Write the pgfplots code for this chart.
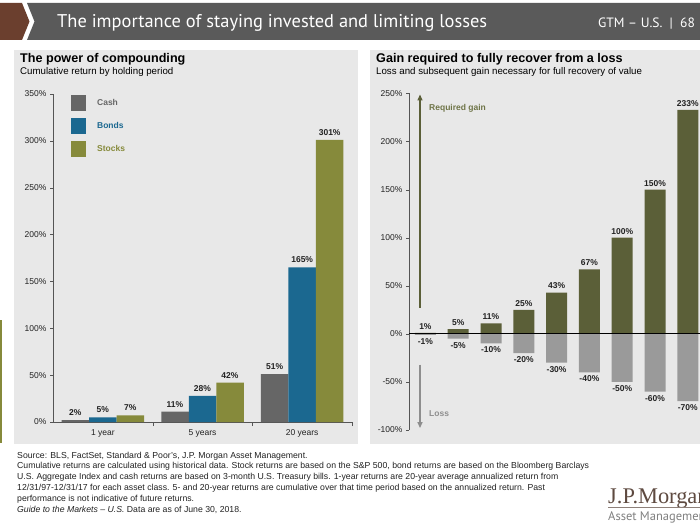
\documentclass[border=0pt]{standalone}
\usepackage{pgfplots}
\pgfplotsset{compat=1.18}
\usepackage{pgfplotstable}
\usepackage{fontspec}
\setmainfont{Liberation Sans}
\newfontfamily\hdrfont{PT Sans}
\newfontfamily\serifont{Liberation Serif}
\usetikzlibrary{arrows.meta}
\definecolor{hdrgray}{HTML}{5A5A5A}
\definecolor{hdrbrown}{HTML}{6B3F2E}
\definecolor{panel}{HTML}{E8E8E8}
\definecolor{cashc}{HTML}{666666}
\definecolor{bondc}{HTML}{1B6890}
\definecolor{stockc}{HTML}{868A3B}
\definecolor{gainc}{HTML}{5B5F38}
\definecolor{gaintext}{HTML}{6E7447}
\definecolor{lossc}{HTML}{9A9A9A}
\definecolor{losstext}{HTML}{8E8E8E}
\definecolor{axisc}{HTML}{555555}
\definecolor{logoc}{HTML}{5E4A40}
\definecolor{notec}{HTML}{222222}

\pgfplotstableread{
x cash bonds stocks
0 2 5 7
1 11 28 42
2 51 165 301
}\compound
\pgfplotstableread{
x gain loss
0 1 -1
1 5 -5
2 11 -10
3 25 -20
4 43 -30
5 67 -40
6 100 -50
7 150 -60
8 233 -70
}\recover

\newcommand{\tickfont}{\fontsize{8.5}{10}\selectfont}
\newcommand{\lblfont}{\bfseries\fontsize{8.5}{10}\selectfont}

\begin{document}
\begin{tikzpicture}[x=1pt,y=1pt]
\useasboundingbox (0,0) rectangle (700,525);
\clip (0,0) rectangle (700,525);
\fill[white] (0,0) rectangle (700,525);
% header
\fill[hdrbrown] (0,522) -- (22,522) -- (29.5,503.5) -- (22,485) -- (0,485) -- cycle;
\fill[hdrgray] (27,522) -- (700,522) -- (700,485) -- (27,485) -- (34.5,503.5) -- cycle;
\node[anchor=base west, inner sep=0pt, text=white] at (57,497.5)
  {\resizebox{430pt}{!}{\hdrfont\fontsize{17}{20}\selectfont The importance of staying invested and limiting losses}};
\node[anchor=base west, inner sep=0pt, text=white] at (598,497.5)
  {\hdrfont\fontsize{13.5}{16}\selectfont GTM – U.S.\ \ |\ \ 68};
% panels
\fill[panel] (14,475) rectangle (358,81);
\fill[panel] (370,475) rectangle (700,81);
\draw[stockc, line width=1.5pt] (1,205) -- (1,82);
% panel titles
\node[anchor=base west, inner sep=0pt] at (20,462) {\bfseries\fontsize{12.6}{14}\selectfont The power of compounding};
\node[anchor=base west, inner sep=0pt] at (20,450) {\fontsize{9.7}{11}\selectfont Cumulative return by holding period};
\node[anchor=base west, inner sep=0pt] at (376,462) {\bfseries\fontsize{12.6}{14}\selectfont Gain required to fully recover from a loss};
\node[anchor=base west, inner sep=0pt] at (376,450) {\fontsize{9.7}{11}\selectfont Loss and subsequent gain necessary for full recovery of value};

% left chart
\begin{axis}[
  at={(53pt,103pt)}, anchor=south west,
  scale only axis, width=299pt, height=328pt,
  xmin=-0.5, xmax=2.5, ymin=0, ymax=350,
  enlargelimits=false, clip=false,
  axis x line=bottom, axis y line=left,
  axis line style={-, draw=axisc},
  tick style={draw=axisc},
  tick align=outside, major tick length=3pt, minor tick length=4pt,
  ytick={0,50,100,150,200,250,300,350},
  yticklabels={0\%,50\%,100\%,150\%,200\%,250\%,300\%,350\%},
  xtick={0,1,2}, xticklabels={1 year,5 years,20 years},
  minor xtick={0.5,1.5,2.5},
  every major x tick/.append style={draw=none},
  ticklabel style={font=\tickfont, text=notec},
  xticklabel style={yshift=-1pt},
  ybar=0pt, bar width=27.5pt,
  nodes near coords={\pgfmathprintnumber[assume math mode=true]{\pgfplotspointmeta}\%},
  every node near coord/.append style={font=\lblfont, text=notec, yshift=1pt},
  legend style={draw=none, fill=none, at={(0.06,0.997)}, anchor=north west,
    font=\lblfont, row sep=7pt, inner sep=0pt, nodes={inner sep=0pt},
    /tikz/every odd column/.append style={column sep=11pt}},
  legend cell align=left,
  legend image code/.code={\fill[#1] (0pt,-8pt) rectangle (15pt,8pt);},
]
\addplot[fill=cashc, draw=none] table[x=x, y=cash] {\compound};
\addlegendentry{\textcolor{cashc}{Cash}}
\addplot[fill=bondc, draw=none] table[x=x, y=bonds] {\compound};
\addlegendentry{\textcolor{bondc}{Bonds}}
\addplot[fill=stockc, draw=none] table[x=x, y=stocks] {\compound};
\addlegendentry{\textcolor{stockc}{Stocks}}
\end{axis}

% right chart
\begin{axis}[
  at={(409pt,95pt)}, anchor=south west,
  scale only axis, width=295.2pt, height=336.5pt,
  xmin=-0.5, xmax=8.5, ymin=-100, ymax=250,
  enlargelimits=false,
  axis y line=left, axis x line=none,
  axis line style={-, draw=axisc},
  tick style={draw=axisc},
  tick align=outside, major tick length=3pt,
  ytick={-100,-50,0,50,100,150,200,250},
  yticklabels={-100\%,-50\%,0\%,50\%,100\%,150\%,200\%,250\%},
  ticklabel style={font=\tickfont, text=notec},
  ybar, bar width=21pt,
  nodes near coords={\pgfmathprintnumber[assume math mode=true]{\pgfplotspointmeta}\%},
  every node near coord/.append style={font=\lblfont, text=notec},
]
\addplot[fill=gainc, draw=none, bar shift=0pt] table[x=x, y=gain] {\recover};
\addplot[fill=lossc, draw=none, bar shift=0pt] table[x=x, y=loss] {\recover};
\draw[black, line width=0.8pt] (axis cs:-0.5,0) -- (axis cs:8.5,0);
\draw[gainc, line width=1.3pt, -{Triangle[width=5pt,length=6pt]}] (axis cs:-0.165,27) -- (axis cs:-0.165,249);
\node[anchor=west, font=\lblfont, text=gaintext, inner sep=0pt] at (axis cs:0.11,235) {Required gain};
\draw[losstext, line width=1.3pt, -{Triangle[width=5pt,length=6pt]}] (axis cs:-0.165,-32) -- (axis cs:-0.165,-98);
\node[anchor=west, font=\lblfont, text=losstext, inner sep=0pt] at (axis cs:0.11,-83) {Loss};
\end{axis}

% footnotes
\begin{scope}[every node/.style={anchor=base west, inner sep=0pt, text=notec, font=\fontsize{8.7}{10}\selectfont}]
\node at (17,67) {Source: BLS, FactSet, Standard \& Poor's, J.P. Morgan Asset Management.};
\node at (17,56.2) {Cumulative returns are calculated using historical data. Stock returns are based on the S\&P 500, bond returns are based on the Bloomberg Barclays};
\node at (17,45.4) {U.S. Aggregate Index and cash returns are based on 3-month U.S. Treasury bills. 1-year returns are 20-year average annualized return from};
\node at (17,34.6) {12/31/97-12/31/17 for each asset class. 5- and 20-year returns are cumulative over that time period based on the annualized return. Past};
\node at (17,23.8) {performance is not indicative of future returns.};
\node at (17,13) {\textit{Guide to the Markets – U.S.} Data are as of June 30, 2018.};
\end{scope}

% logo
\node[anchor=base west, inner sep=0pt, text=logoc] at (608,22) {\serifont\fontsize{22.4}{25}\selectfont J.P.Morgan};
\draw[logoc!70, line width=0.6pt] (608,17.5) -- (700,17.5);
\node[anchor=base west, inner sep=0pt, text=gray] at (608,4.5) {\hdrfont\fontsize{12.5}{14}\selectfont Asset Management};
\end{tikzpicture}
\end{document}
